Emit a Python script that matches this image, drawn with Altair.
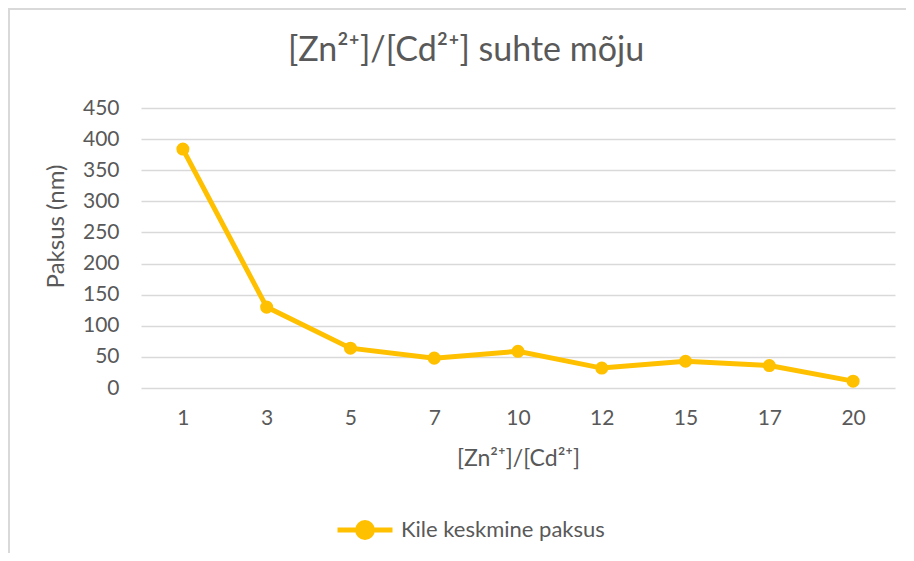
import altair as alt
import pandas as pd

categories = ["1", "3", "5", "7", "10", "12", "15", "17", "20"]
thickness = [384, 130, 64, 48, 59, 32, 43, 36, 11]
series_name = "Kile keskmine paksus"

df = pd.DataFrame({"ratio": categories, "value": thickness, "series": series_name})

FONT = "Lato"
TXT = "#595959"
GOLD = "#FFC000"

x_enc = alt.X("ratio:O", sort=categories, title="[Zn²⁺]/[Cd²⁺]",
              scale=alt.Scale(type="point", padding=0.5),
              axis=alt.Axis(labelAngle=0, domain=False, ticks=False, grid=False,
                            labelFontSize=21, labelColor=TXT, labelPadding=19,
                            titleFontSize=23, titleColor=TXT, titleFontWeight="normal",
                            titlePadding=19, labelFont=FONT, titleFont=FONT))
y_enc = alt.Y("value:Q", title="Paksus (nm)",
              scale=alt.Scale(domain=[0, 450], nice=False),
              axis=alt.Axis(values=list(range(0, 451, 50)), domain=False, ticks=False,
                            grid=True, gridColor="#d9d9d9", gridWidth=1.5,
                            labelFontSize=21, labelColor=TXT, labelPadding=22,
                            titleFontSize=24, titleColor=TXT, titleFontWeight="normal",
                            titlePadding=14, titleY=118, labelFont=FONT, titleFont=FONT))
color_enc = alt.Color("series:N", scale=alt.Scale(range=[GOLD]),
                      legend=alt.Legend(title=None, orient="none", legendX=194, legendY=392,
                                        symbolType="M-1,0H1M0,-0.27A0.27,0.27,0,1,1,0,0.27A0.27,0.27,0,1,1,0,-0.27",
                                        symbolSize=3025, symbolStrokeWidth=5,
                                        symbolStrokeColor=GOLD, symbolFillColor=GOLD,
                                        labelFontSize=22, labelColor=TXT, labelFont=FONT,
                                        labelOffset=6, labelLimit=400))

base = alt.Chart(df).encode(x=x_enc, y=y_enc, color=color_enc)
line = base.mark_line(strokeWidth=5, color=GOLD)
pts = base.mark_point(filled=True, size=170, opacity=1, color=GOLD)

border = alt.Chart(alt.Data(values=[{}])).mark_rect(
    fill=None, stroke="#d9d9d9", strokeWidth=2
).encode(x=alt.value(-132), y=alt.value(-99), x2=alt.value(900), y2=alt.value(600))

chart = alt.layer(border, line, pts).properties(
    width=754, height=280,
    padding={"left": 133, "top": 100, "right": 11, "bottom": 165},
    autosize=alt.AutoSizeParams(type="none"),
    title=alt.TitleParams("[Zn²⁺]/[Cd²⁺] suhte mõju", anchor="middle", dx=-52,
                          fontSize=34, font=FONT, color=TXT, fontWeight="normal",
                          baseline="alphabetic", offset=-87),
).configure_view(stroke=None)

chart.save("out.html", embed_options={"renderer": "svg", "actions": False})
